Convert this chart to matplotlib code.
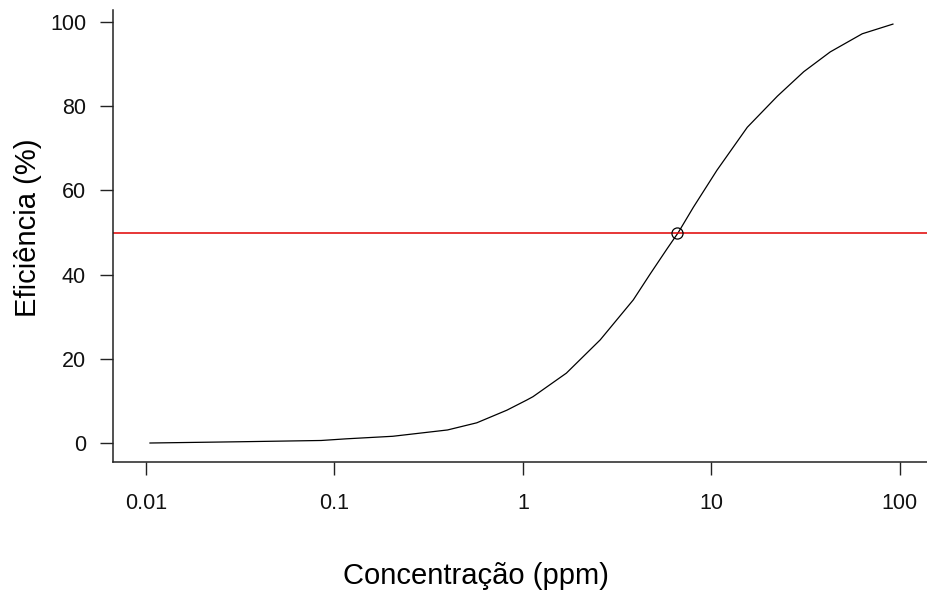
import matplotlib
matplotlib.use("Agg")
import matplotlib.pyplot as plt

# Data
conc = [0.0105, 0.0316, 0.085, 0.116, 0.204, 0.398, 0.569, 0.822, 1.047, 1.13,
        1.70, 2.57, 3.85, 4.74, 5.83, 6.67, 8.02, 10.7, 15.5, 22.4, 30.9, 42.7,
        63.1, 91.8]
effic = [0.0, 0.3, 0.6, 1.0, 1.6, 3.1, 4.8, 7.8, 10.2, 11.0,
         16.6, 24.5, 34.0, 40.2, 46.2, 50.0, 56.0, 64.8, 75.0, 82.4, 88.2, 92.9,
         97.2, 99.5]
ec50_x = [6.6]
ec50_y = [50]
hline_y = 50

xticks = [0.01, 0.1, 1, 10, 100]
xticklabels = ["0.01", "0.1", "1", "10", "100"]
yticks = [0, 20, 40, 60, 80, 100]
yticklabels = ["0", "20", "40", "60", "80", "100"]

plt.rcParams['font.family'] = ['Liberation Sans', 'DejaVu Sans']

W, H = 928, 597
fig = plt.figure(figsize=(W / 100, H / 100), dpi=100)
ax = fig.add_axes([113 / W, 1 - 462 / H, (W - 113) / W, (462 - 10) / H])

ax.plot(conc, effic, color='black', lw=0.9, solid_joinstyle='round')
ax.axhline(hline_y, color='#e00000', lw=1.1)
ax.plot(ec50_x, ec50_y, 'o', mfc='none', mec='black', ms=8, mew=0.9)

ax.set_xscale('log')
ax.set_xlim(10 ** -2.175, 10 ** 2.149)
ax.set_ylim(-4.51, 102.85)

ax.set_xticks(xticks)
ax.set_xticklabels(xticklabels)
ax.xaxis.set_minor_locator(matplotlib.ticker.NullLocator())
ax.set_yticks(yticks)
ax.set_yticklabels(yticklabels)

for s in ['top', 'right']:
    ax.spines[s].set_visible(False)
for s in ['left', 'bottom']:
    ax.spines[s].set_color('#222222')
    ax.spines[s].set_linewidth(1.1)

ax.tick_params(axis='both', direction='out', length=9.4, width=1.0,
               color='#222222', labelsize=15.5, labelcolor='#111111')
ax.tick_params(axis='x', pad=13)
ax.tick_params(axis='y', pad=10)

fig.text(476 / W, 1 - 576 / H, "Concentração (ppm)", fontsize=21,
         ha='center', va='center')
fig.text(28 / W, 1 - 228 / H, "Eficiência (%)", fontsize=21,
         ha='center', va='center', rotation=90)

fig.savefig("out.png", dpi=100)
